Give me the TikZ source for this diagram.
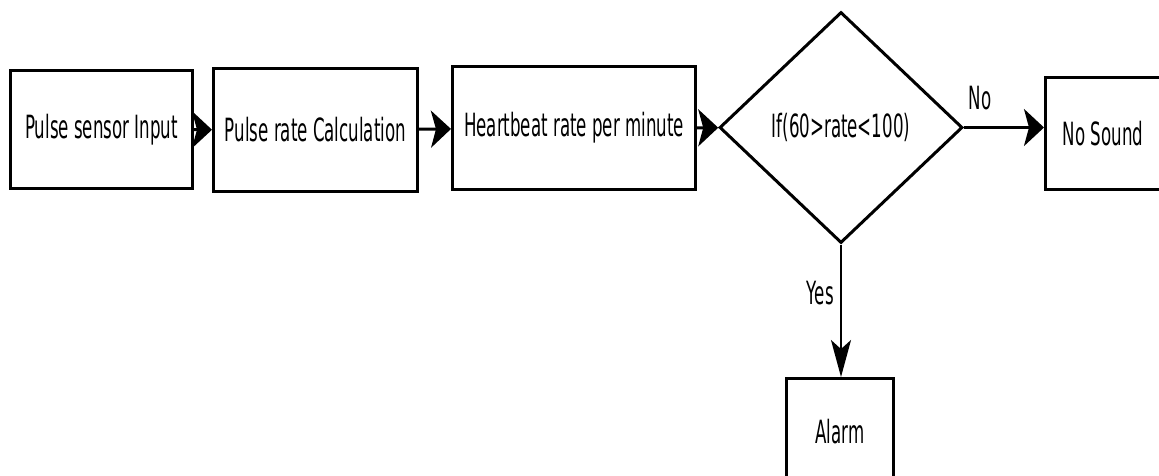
\documentclass[tikz,border=0pt]{standalone}
\usepackage{fontspec}
\setmainfont[FakeStretch=0.52]{DejaVu Sans}
\usetikzlibrary{shapes.geometric, arrows.meta, positioning}

\begin{document}
\begin{tikzpicture}[x=1pt, y=-1pt,
  every node/.style={font=\fontsize{32}{38}\selectfont},
  stepbox/.style={draw, line width=3pt, inner sep=0pt},
  decbox/.style={draw, diamond, line width=3pt, inner sep=0pt},
  harrow/.style={line width=3pt, -{Stealth[length=20pt, width=37pt, inset=5pt]}},
  varrow/.style={line width=2pt, -{Stealth[length=37pt, width=20pt, inset=9pt]}}]
  \useasboundingbox (0, 0) rectangle (1159, 475);
  \clip (0, 0) rectangle (1159, 475);

  \node[stepbox, minimum width=182pt, minimum height=118pt] (input) at (101.5, 129.5) {Pulse sensor Input};
  \node[stepbox, minimum width=204pt, minimum height=123pt] (calc) at (315.5, 130) {Pulse rate Calculation};
  \node[stepbox, minimum width=243pt, minimum height=123pt] (bpm) at (574, 128) {Heartbeat rate per minute};
  \node[decbox, minimum width=243pt, minimum height=231pt] (check) at (841, 127.5) {If(60>rate<100)};
  \node[stepbox, minimum width=115pt, minimum height=112pt] (quiet) at (1103, 133.5) {No Sound};
  \node[stepbox, minimum width=107pt, minimum height=107pt] (alarm) at (840, 432) {Alarm};

  \draw[harrow] (input) -- (calc);
  \draw[harrow] (calc) -- (bpm);
  \draw[harrow] (bpm) -- (check);
  \draw[harrow] (check.east) -- node[pos=0.2, above=13pt] {No} (check.east -| quiet.west);
  \draw[varrow] (check.south) -- node[pos=0.37, left=3pt] {Yes} (check.south |- alarm.north);
\end{tikzpicture}
\end{document}
